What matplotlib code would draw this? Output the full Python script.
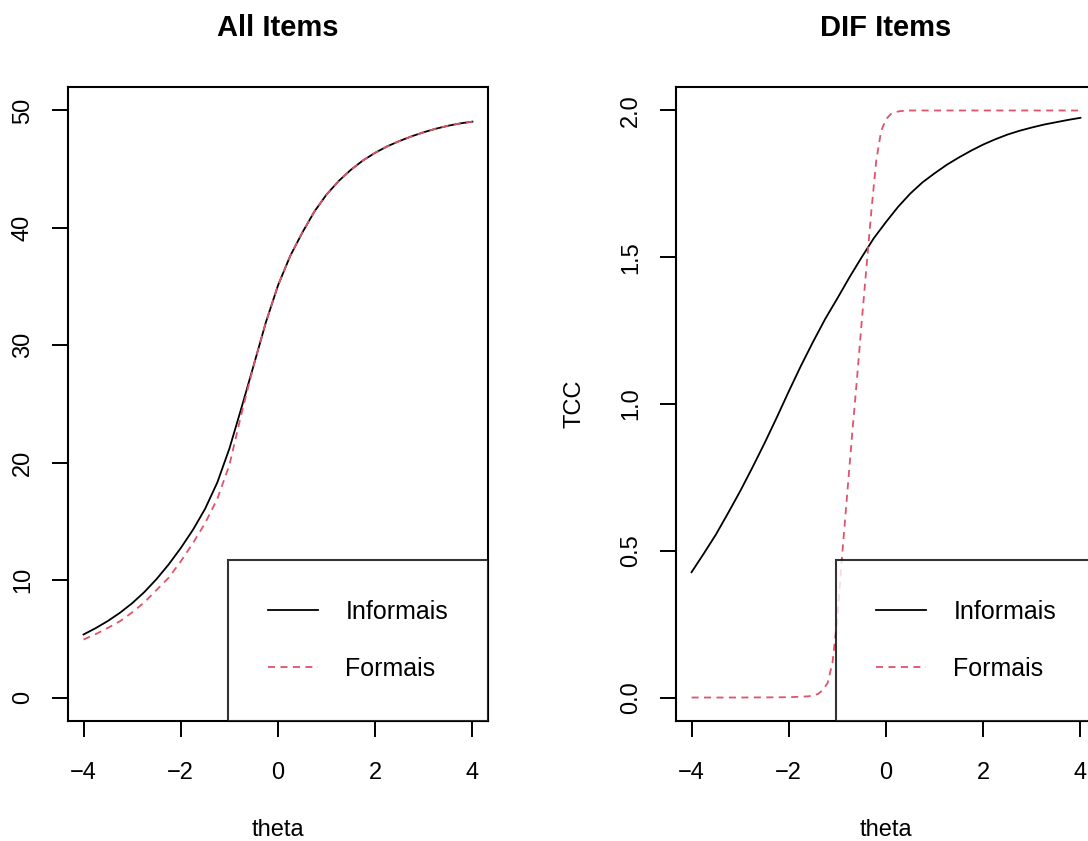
import matplotlib
matplotlib.use("Agg")
import matplotlib.pyplot as plt

OUTPUT = "out.png"

# Test characteristic curves
theta = [-4, -3.75, -3.5, -3.25, -3, -2.75, -2.5, -2.25, -2, -1.75, -1.5, -1.25,
         -1, -0.75, -0.5, -0.25, 0, 0.25, 0.5, 0.75, 1, 1.25, 1.5, 1.75,
         2, 2.25, 2.5, 2.75, 3, 3.25, 3.5, 3.75, 4]
all_informais = [5.37, 5.91, 6.52, 7.22, 8.03, 8.98, 10.08, 11.33, 12.73, 14.28, 16.07, 18.3,
                 21.2, 24.7, 28.3, 31.95, 35.1, 37.6, 39.6, 41.4, 42.85, 44.0, 44.95, 45.75,
                 46.4, 46.95, 47.4, 47.8, 48.15, 48.45, 48.7, 48.9, 49.05]
all_formais = [4.94, 5.4, 5.93, 6.5, 7.25, 8.1, 9.15, 10.2, 11.6, 13.15, 14.85, 16.9,
               19.8, 24.2, 28.3, 31.95, 35.1, 37.6, 39.6, 41.4, 42.85, 44.0, 44.95, 45.75,
               46.4, 46.95, 47.4, 47.8, 48.15, 48.45, 48.7, 48.9, 49.05]

dif_informais = [0.427, 0.49, 0.555, 0.628, 0.703, 0.783, 0.866, 0.953, 1.043, 1.13, 1.212,
                 1.29, 1.36, 1.432, 1.50, 1.565, 1.62, 1.672, 1.717, 1.755, 1.786, 1.815,
                 1.84, 1.863, 1.884, 1.902, 1.918, 1.931, 1.942, 1.952, 1.96, 1.968, 1.975]

theta_dif_for = [-4, -3, -2, -1.6, -1.5, -1.4, -1.3, -1.2, -1.1, -1.0, -0.9, -0.8, -0.7,
                 -0.6, -0.5, -0.4, -0.3, -0.2, -0.1, 0, 0.1, 0.2, 0.3, 0.5, 1, 2, 3, 4]
dif_formais = [0, 0, 0.001, 0.004, 0.007, 0.012, 0.025, 0.05, 0.12, 0.27, 0.49, 0.69, 0.89,
               1.08, 1.28, 1.47, 1.66, 1.83, 1.93, 1.97, 1.988, 1.995, 1.998, 2.0, 2.0,
               2.0, 2.0, 2.0]

labels = ["Informais", "Formais"]
red = "#DF536B"

plt.rcParams["font.family"] = ["Liberation Sans", "DejaVu Sans"]

fig = plt.figure(figsize=(10.88, 8.41), dpi=100)
ax1 = fig.add_axes([68 / 1088, 1 - 721 / 841, 420 / 1088, 634 / 841])
ax2 = fig.add_axes([676 / 1088, 1 - 721 / 841, 420 / 1088, 634 / 841])

def style(ax, title, ylim, yticks, yfmt):
    ax.set_xlim(-4.32, 4.32)
    ax.set_ylim(*ylim)
    ax.set_xticks([-4, -2, 0, 2, 4])
    ax.set_xticklabels(["\u22124", "\u22122", "0", "2", "4"])
    ax.set_yticks(yticks)
    ax.set_yticklabels([yfmt.format(v) for v in yticks])
    for s in ax.spines.values():
        s.set_linewidth(1.5)
    ax.tick_params(axis="both", length=11.5, width=1.4, labelsize=17)
    ax.tick_params(axis="x", pad=18)
    ax.tick_params(axis="y", pad=13, labelrotation=90)
    for lab in ax.get_yticklabels():
        lab.set_va("center")
    ax.set_title(title, fontsize=21, fontweight="bold", pad=37)
    ax.set_xlabel("theta", fontsize=17, labelpad=25)

dash = (3.9, 3.0)

ax1.plot(theta, all_informais, color="black", lw=1.3, label=labels[0])
ax1.plot(theta, all_formais, color=red, lw=1.3, dashes=dash, label=labels[1])
style(ax1, "All Items", (-2, 52), [0, 10, 20, 30, 40, 50], "{:d}")

ax2.plot(theta, dif_informais, color="black", lw=1.3, label=labels[0])
ax2.plot(theta_dif_for, dif_formais, color=red, lw=1.3, dashes=dash, label=labels[1])
style(ax2, "DIF Items", (-0.08, 2.08), [0.0, 0.5, 1.0, 1.5, 2.0], "{:.1f}")
ax2.set_ylabel("TCC", fontsize=17, labelpad=25)

for ax in (ax1, ax2):
    leg = ax.legend(loc="lower right", fontsize=18, frameon=True, fancybox=False,
                    borderaxespad=0, borderpad=1.6, handlelength=2.0,
                    handletextpad=1.1, labelspacing=1.32)
    leg.get_frame().set_edgecolor("black")
    leg.get_frame().set_linewidth(1.5)

plt.savefig(OUTPUT, dpi=100)
